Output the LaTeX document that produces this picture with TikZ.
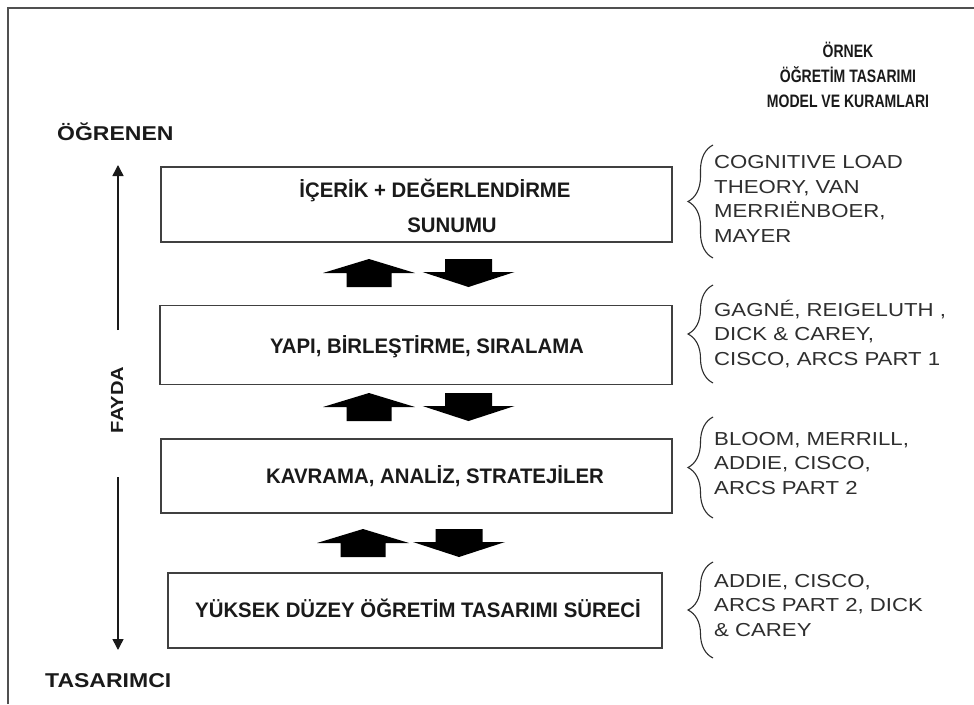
\documentclass[tikz,border=0pt]{standalone}
\usepackage{fontspec}
\setmainfont{Liberation Sans}
\newfontfamily\boxfont[FakeStretch=0.97]{Liberation Sans}
\newfontfamily\listfont[FakeStretch=1.18]{Liberation Sans}
\newfontfamily\titlefont[FakeStretch=0.78]{Liberation Sans}
\newfontfamily\sidefont[FakeStretch=1.15]{Liberation Sans}
\usetikzlibrary{arrows.meta,decorations.pathreplacing}
\definecolor{frameline}{HTML}{505050}
\definecolor{boxline}{HTML}{404040}
\definecolor{ink}{HTML}{1A1A1A}
\definecolor{listink}{HTML}{2E2E2E}
\tikzset{
  lvl/.style={draw=boxline, line width=1.7pt, inner sep=0pt},
  boxtxt/.style={font=\boxfont\bfseries\fontsize{21}{26}\selectfont, text=ink, inner sep=0pt, anchor=base},
  sidetxt/.style={font=\sidefont\bfseries\fontsize{20}{24}\selectfont, text=ink, inner sep=0pt},
  titletxt/.style={font=\titlefont\bfseries\fontsize{18}{25}\selectfont, text=ink, inner sep=0pt, align=center, anchor=base},
  listtxt/.style={font=\listfont\fontsize{18.8}{24.5}\selectfont, text=listink, align=left, anchor=base west, inner sep=0pt},
  brc/.style={draw=listink, line width=1.1pt, decorate, decoration={brace, amplitude=25pt}},
  axisarrow/.style={draw=ink, line width=1.5pt, -{Triangle[width=11pt,length=11pt]}},
  uparr/.pic={\fill[black] (0,0) -- (46,14) -- (22.5,14) -- (22.5,28) -- (-22.5,28) -- (-22.5,14) -- (-46,14) -- cycle;},
  downarr/.pic={\fill[black] (0,28) -- (46,13) -- (23.5,13) -- (23.5,0) -- (-23.5,0) -- (-23.5,13) -- (-46,13) -- cycle;}
}
\begin{document}
\begin{tikzpicture}[x=1pt,y=-1pt]
\useasboundingbox (0,0) rectangle (974,704);
\fill[white] (0,0) rectangle (974,704);
% outer frame
\draw[frameline, line width=1.8pt] (8,704) -- (8,8) -- (974,8);

% titles (anchor base = last line)
\node[titletxt] (title) at (848,107) {ÖRNEK\\ÖĞRETİM TASARIMI\\MODEL VE KURAMLARI};

% side labels
\node[sidetxt, anchor=base west] (ogr) at (57,140) {ÖĞRENEN};
\node[sidetxt, anchor=base west] (tas) at (45,687) {TASARIMCI};
\node[sidetxt, font=\sidefont\bfseries\fontsize{17.5}{20}\selectfont, rotate=90] (fayda) at (117,400) {FAYDA};
\coordinate (upstart) at (118,330);
\coordinate (upend) at (118,165);
\coordinate (downstart) at (118,477);
\coordinate (downend) at (118,650);
\draw[axisarrow] (upstart) -- (upend);
\draw[axisarrow] (downstart) -- (downend);

% level boxes
\node[lvl, minimum width=511pt, minimum height=75pt] (b1) at (416.5,204.5) {};
\node[lvl, minimum width=512pt, minimum height=79pt] (b2) at (416,345) {};
\node[lvl, minimum width=511pt, minimum height=74pt] (b3) at (416.5,476) {};
\node[lvl, minimum width=494pt, minimum height=75pt] (b4) at (415,610.5) {};

\node[boxtxt] (t1a) at (435,197) {İÇERİK + DEĞERLENDİRME};
\node[boxtxt] (t1b) at (452,232) {SUNUMU};
\node[boxtxt] (t2) at (427,353) {YAPI, BİRLEŞTİRME, SIRALAMA};
\node[boxtxt] (t3) at (435,483) {KAVRAMA, ANALİZ, STRATEJİLER};
\node[boxtxt] (t4) at (418,617) {YÜKSEK DÜZEY ÖĞRETİM TASARIMI SÜRECİ};

% block arrows between levels
\pic at (369,259) {uparr};
\pic at (468.5,259) {downarr};
\pic at (369,393) {uparr};
\pic at (468.5,393) {downarr};
\pic at (363,529) {uparr};
\pic at (459,529) {downarr};

% model lists (anchor base = last line)
\draw[brc] (713,258) -- (713,145);
\node[listtxt] (l1) at (714,242) {COGNITIVE LOAD\\THEORY, VAN\\MERRIËNBOER,\\MAYER};
\draw[brc] (713,383) -- (713,285);
\node[listtxt] (l2) at (714,365) {GAGNÉ, REIGELUTH ,\\DICK \& CAREY,\\CISCO, ARCS PART 1};
\draw[brc] (713,518) -- (713,417);
\node[listtxt] (l3) at (714,494) {BLOOM, MERRILL,\\ADDIE, CISCO,\\ARCS PART 2};
\draw[brc] (713,658) -- (713,562);
\node[listtxt] (l4) at (714,636) {ADDIE, CISCO,\\ARCS PART 2, DICK\\\& CAREY};
\end{tikzpicture}
\end{document}
